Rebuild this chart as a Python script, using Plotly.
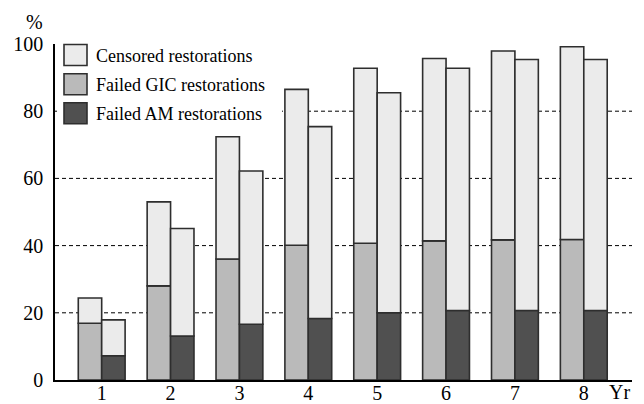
import plotly.graph_objects as go

years = [1, 2, 3, 4, 5, 6, 7, 8]
gic_failed = [16.9, 28.0, 36.0, 40.1, 40.7, 41.4, 41.7, 41.8]
gic_total = [24.4, 53.0, 72.4, 86.5, 92.8, 95.7, 97.9, 99.2]
am_failed = [7.2, 13.1, 16.6, 18.3, 20.0, 20.7, 20.7, 20.7]
am_total = [17.9, 45.1, 62.2, 75.4, 85.5, 92.8, 95.4, 95.4]
y_ticks = [0, 20, 40, 60, 80, 100]
grid_vals = [20, 40, 60, 80]
legend_labels = ["Censored restorations", "Failed GIC restorations", "Failed AM restorations"]

C_CENS = "#ebebeb"
C_GIC = "#bababa"
C_AM = "#505050"
EDGE = "#2e2e2e"
FONT = "Liberation Serif"
W = 0.34

FW, FH = 644, 404
PL, PR, PT, PB = 55, 632, 44, 380


def px(xw):
    return (xw - PL) / (PR - PL)


def py(yw):
    return (PB - yw) / (PB - PT)


gic_cens = [t - f for t, f in zip(gic_total, gic_failed)]
am_cens = [t - f for t, f in zip(am_total, am_failed)]

fig = go.Figure()
mk = lambda c: dict(color=c, line=dict(color=EDGE, width=1.6))
fig.add_bar(x=years, y=gic_failed, base=0, width=W, offset=-W, marker=mk(C_GIC), name=legend_labels[1])
fig.add_bar(x=years, y=gic_cens, base=gic_failed, width=W, offset=-W, marker=mk(C_CENS), name=legend_labels[0])
fig.add_bar(x=years, y=am_failed, base=0, width=W, offset=0, marker=mk(C_AM), name=legend_labels[2])
fig.add_bar(x=years, y=am_cens, base=am_failed, width=W, offset=0, marker=mk(C_CENS), name=legend_labels[0] + " (AM)")

for g in grid_vals:
    fig.add_shape(type="line", xref="paper", yref="y", x0=0, x1=1, y0=g, y1=g,
                  line=dict(color="black", width=1, dash="4px,3px"), layer="below")

# legend background (hides gridline behind legend)
fig.add_shape(type="rect", xref="paper", yref="paper", x0=px(57), x1=px(282), y0=py(132), y1=py(45),
              fillcolor="white", line=dict(width=0), layer="below")

# legend drawn as boxes + text
leg_colors = [C_CENS, C_GIC, C_AM]
leg_y = [55, 84.3, 113.3]
for lab, col, yy in zip(legend_labels, leg_colors, leg_y):
    fig.add_shape(type="rect", xref="paper", yref="paper",
                  x0=px(64), x1=px(87), y0=py(yy + 10.5), y1=py(yy - 10.5),
                  fillcolor=col, line=dict(color=EDGE, width=1.6))
    fig.add_annotation(text=lab, xref="paper", yref="paper", x=px(94),
                       y=py(yy + 1), xanchor="left", yanchor="middle",
                       showarrow=False, font=dict(family=FONT, size=18, color="black"))

fig.add_annotation(text="%", xref="paper", yref="paper", x=px(34), y=py(22),
                   xanchor="center", yanchor="middle", showarrow=False,
                   font=dict(family=FONT, size=20, color="black"))
fig.add_annotation(text="Yr", xref="paper", yref="paper", x=px(619), y=py(392),
                   xanchor="center", yanchor="middle", showarrow=False,
                   font=dict(family=FONT, size=20, color="black"))

fig.update_layout(
    width=FW, height=FH, barmode="overlay", showlegend=False,
    plot_bgcolor="white", paper_bgcolor="white",
    margin=dict(l=PL, r=FW - PR, t=PT, b=FH - PB, autoexpand=False),
    font=dict(family=FONT, size=20, color="black"),
)
fig.update_xaxes(range=[0.322, 8.70], tickvals=years, showgrid=False, zeroline=False,
                 showline=True, linecolor="black", linewidth=1.6, ticks="", ticklen=0,
                 automargin=False, ticklabelstandoff=-6,
                 tickfont=dict(family=FONT, size=20))
fig.update_yaxes(range=[0, 100], tickvals=y_ticks, showgrid=False, zeroline=False,
                 showline=True, linecolor="black", linewidth=1.6, ticks="",
                 automargin=False, ticklabelstandoff=6,
                 tickfont=dict(family=FONT, size=20))

fig.write_html(
    "out.html",
    config={"displayModeBar": False},
    post_script="document.body.style.margin='0';document.body.style.overflow='hidden';",
)
